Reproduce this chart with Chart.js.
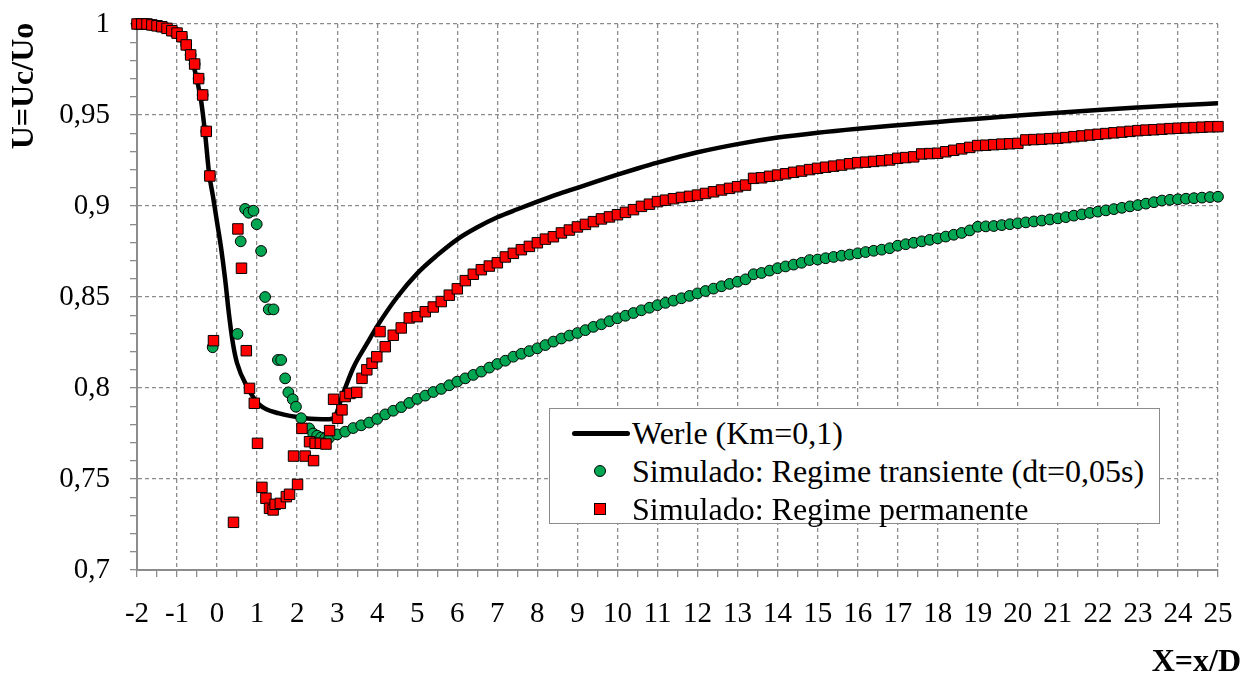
<!DOCTYPE html>
<html>
<head>
<meta charset="utf-8">
<script src="https://cdn.jsdelivr.net/npm/chart.js@4.4.0/dist/chart.umd.min.js"></script>
<style>
  body { margin: 0; background: #fff; }
  #wrap { position: relative; width: 1252px; height: 675px; }
  #legend {
    position: absolute; left: 549px; top: 408px; width: 611px; height: 116px;
    box-sizing: border-box; border: 1.5px solid #8c8c8c; background: #fff;
    font-family: "Liberation Serif", "Times New Roman", serif; font-size: 32px; color: #000;
  }
  #legend .row { position: absolute; left: 0; height: 38px; line-height: 38px; padding-left: 82px; white-space: nowrap; }
  #legend .line { position: absolute; left: 22px; top: 17px; width: 58px; height: 5px; background: #000; border-radius: 3px; }
  #legend .dot { position: absolute; left: 44px; top: 13px; width: 10px; height: 10px; border: 1px solid #000; border-radius: 50%; background: #00a651; }
  #legend .sq { position: absolute; left: 44px; top: 13px; width: 10px; height: 10px; border: 1px solid #000; background: #ff0000; }
</style>
</head>
<body>
<div id="wrap">
  <canvas id="chart" width="1252" height="675"></canvas>
  <div id="legend">
    <div class="row" style="top:5px"><span class="line"></span>Werle (Km=0,1)</div>
    <div class="row" style="top:43px"><span class="dot"></span>Simulado: Regime transiente (dt=0,05s)</div>
    <div class="row" style="top:81px"><span class="sq"></span>Simulado: Regime permanente</div>
  </div>
</div>
<script>
const xTitle = "X=x/D";
const yTitle = "U=Uc/Uo";

// Werle (Km=0,1) curve
const werleX = [-2, -1.5, -1.2, -1.0, -0.8, -0.6, -0.5, -0.4, -0.3, -0.2, -0.1, 0, 0.1, 0.2, 0.3, 0.4, 0.5, 0.75, 1.05, 1.55, 2.2, 2.8, 2.95,
  3.1, 3.4, 3.75, 4.0, 4.5, 5.0, 5.5, 6.0, 6.5, 7.0, 7.5, 8.0, 8.5, 9.0, 9.5, 10, 10.5, 11, 12, 13, 14, 15, 16, 17, 18, 19, 20, 21, 22, 23, 24, 25];
const werleY = [1.0, 0.9993, 0.997, 0.994, 0.988, 0.978, 0.969, 0.958, 0.940, 0.918, 0.905, 0.891, 0.877, 0.860, 0.840, 0.824, 0.8136, 0.8007, 0.791, 0.786, 0.7834, 0.7828, 0.7845,
  0.794, 0.811, 0.8246, 0.834, 0.850, 0.863, 0.873, 0.8817, 0.8883, 0.8938, 0.8982, 0.9024, 0.9064, 0.910, 0.9137, 0.9172, 0.9206, 0.9238,
  0.9295, 0.934, 0.9376, 0.9403, 0.9425, 0.9444, 0.9462, 0.948, 0.9497, 0.9513, 0.9528, 0.9541, 0.9553, 0.9564];

// Simulado: regime transiente (green circles)
const transHeadX = [-2.0, -1.88, -1.75, -1.63, -1.5, -1.38, -1.25, -1.13, -1.0, -0.88, -0.77, -0.66, -0.56, -0.46, -0.36, -0.27, -0.18,
  -0.11, 0.51, 0.59, 0.70, 0.79, 0.91, 0.99, 1.10, 1.20, 1.29, 1.41, 1.52, 1.60, 1.70, 1.78, 1.89, 1.97, 2.10, 2.30, 2.4, 2.5, 2.6, 2.7];
const transHeadY = [1.0, 1.0, 1.0, 0.9995, 0.999, 0.9985, 0.9976, 0.9963, 0.995, 0.993, 0.9885, 0.983, 0.978, 0.970, 0.961, 0.941, 0.9165,
  0.8224, 0.8297, 0.8806, 0.8984, 0.8963, 0.8974, 0.890, 0.8753, 0.850, 0.8432, 0.8432, 0.8154, 0.8154, 0.8053, 0.7976, 0.7938, 0.7897, 0.7834, 0.7778, 0.775, 0.7738, 0.7728, 0.7724];
const transTailStart = 2.8;
const transTailStep = 0.2;
const transTailY = [
  0.7726, 0.7745, 0.776, 0.778, 0.7795, 0.781, 0.783, 0.7855, 0.7875, 0.7895,
  0.7918, 0.794, 0.7958, 0.7978, 0.7995, 0.8015, 0.8035, 0.8053, 0.8072, 0.809,
  0.8112, 0.8132, 0.815, 0.8172, 0.8188, 0.8203, 0.8218, 0.8236, 0.8255, 0.8272,
  0.8288, 0.8302, 0.8318, 0.8336, 0.835, 0.8367, 0.8383, 0.8397, 0.8412, 0.8427,
  0.8441, 0.8455, 0.8468, 0.848, 0.8493, 0.8506, 0.852, 0.8533, 0.8546, 0.8559,
  0.8572, 0.8584, 0.8597, 0.8625, 0.8632, 0.8645, 0.8658, 0.8668, 0.8678, 0.8688,
  0.8703, 0.8706, 0.8713, 0.872, 0.8727, 0.8733, 0.874, 0.8747, 0.8754, 0.876,
  0.8768, 0.8782, 0.879, 0.8798, 0.8806, 0.8814, 0.8822, 0.8832, 0.8842, 0.8852,
  0.8866, 0.8886, 0.8888, 0.889, 0.8895, 0.89, 0.8905, 0.891, 0.8915, 0.892,
  0.8926, 0.8932, 0.8939, 0.8947, 0.8954, 0.8962, 0.8969, 0.8976, 0.8983, 0.899,
  0.8998, 0.9005, 0.9013, 0.9021, 0.903, 0.9034, 0.9037, 0.904, 0.9043, 0.9046,
  0.9049, 0.9051];

// Simulado: regime permanente (red squares)
const permHeadX = [-2.0, -1.88, -1.75, -1.63, -1.5, -1.38, -1.25, -1.13, -1.0, -0.88, -0.77, -0.66, -0.56, -0.46, -0.36, -0.27, -0.18,
  -0.09, 0.41, 0.52, 0.61, 0.73, 0.81, 0.93, 1.01, 1.12, 1.22, 1.31, 1.40, 1.45, 1.58, 1.73, 1.81, 2.01, 1.91, 2.2, 2.12, 2.31, 2.41,
  2.45, 2.58, 2.72, 2.81, 2.91, 3.01, 3.12, 3.2, 3.32, 3.49, 3.62, 3.74, 3.87, 3.99, 4.07];
const permHeadY = [1.0, 1.0, 1.0, 0.9995, 0.999, 0.9985, 0.9976, 0.9963, 0.995, 0.993, 0.9885, 0.983, 0.978, 0.970, 0.961, 0.941, 0.9165,
  0.826, 0.7262, 0.8874, 0.8658, 0.8205, 0.7998, 0.7916, 0.7696, 0.7454, 0.7394, 0.7339, 0.733, 0.7361, 0.7366, 0.7403, 0.7416, 0.747, 0.7626, 0.7626, 0.7778, 0.7705, 0.7601,
  0.7696, 0.7696, 0.7692, 0.7766, 0.7938, 0.7834, 0.788, 0.7953, 0.797, 0.7976, 0.8053, 0.810, 0.8136, 0.8172, 0.831];
const permTailStart = 4.2;
const permTailStep = 0.2;
const permTailY = [
  0.8227, 0.829, 0.833, 0.8385, 0.8392, 0.8419, 0.8445, 0.8475, 0.851, 0.8545,
  0.859, 0.8625, 0.865, 0.867, 0.8688, 0.872, 0.874, 0.876, 0.8778, 0.8798,
  0.8818, 0.8831, 0.8852, 0.8868, 0.8885, 0.8899, 0.8914, 0.8929, 0.894, 0.8952,
  0.8965, 0.898, 0.8998, 0.901, 0.9024, 0.9032, 0.904, 0.9047, 0.9053, 0.906,
  0.9069, 0.9078, 0.9088, 0.9097, 0.9106, 0.9115, 0.9152, 0.9155, 0.9163, 0.917,
  0.9177, 0.9185, 0.9192, 0.92, 0.9207, 0.9213, 0.9219, 0.9225, 0.9232, 0.9238,
  0.9241, 0.9245, 0.9249, 0.9253, 0.9262, 0.9266, 0.927, 0.9286, 0.9288, 0.929,
  0.9298, 0.9306, 0.9314, 0.9322, 0.9332, 0.9334, 0.9337, 0.934, 0.9342, 0.9344,
  0.9363, 0.9365, 0.9367, 0.937, 0.9372, 0.9376, 0.9381, 0.9385, 0.939, 0.9394,
  0.9398, 0.9402, 0.9406, 0.941, 0.9414, 0.9417, 0.9419, 0.9422, 0.9425, 0.9427,
  0.9429, 0.9431, 0.9433, 0.9435, 0.9436];

const xMin = -2, xMax = 25, yMin = 0.7, yMax = 1;

function pairs(xs, ys) {
  return xs.map((x, i) => ({ x: x, y: ys[i] }));
}
function tail(start, step, ys) {
  return ys.map((y, i) => ({ x: +(start + i * step).toFixed(3), y: y }));
}

const gridGray = "#8c8c8c";
const tickFont = { family: "'Liberation Serif', 'Times New Roman', serif", size: 29 };

const isMajorY = v => Math.abs(v * 20 - Math.round(v * 20)) < 1e-6;
const isMajorX = v => Math.abs(v - Math.round(v)) < 1e-6;

// axis titles sit outside the scale boxes, so draw them here
const axisTitles = {
  id: "axisTitles",
  afterDraw(chart) {
    const c = chart.ctx;
    const area = chart.chartArea;
    c.save();
    c.fillStyle = "#000";
    c.font = "bold 32px 'Liberation Serif', 'Times New Roman', serif";
    c.textAlign = "right";
    c.textBaseline = "alphabetic";
    c.fillText(xTitle, area.right + 23, area.bottom + 101);
    c.translate(33, area.top + 62);
    c.rotate(-Math.PI / 2);
    c.textAlign = "center";
    c.fillText(yTitle, 0, 0);
    c.restore();
  }
};

const ctx = document.getElementById("chart");
new Chart(ctx, {
  type: "scatter",
  data: {
    datasets: [
      {
        label: "Werle (Km=0,1)",
        data: pairs(werleX, werleY),
        showLine: true,
        borderColor: "#000",
        borderWidth: 4.5,
        pointRadius: 0,
        cubicInterpolationMode: "monotone",
        order: 3
      },
      {
        label: "Simulado: Regime transiente (dt=0,05s)",
        data: pairs(transHeadX, transHeadY).concat(tail(transTailStart, transTailStep, transTailY)),
        pointStyle: "circle",
        pointRadius: 5.4,
        backgroundColor: "#00a651",
        borderColor: "#000",
        borderWidth: 1,
        clip: false,
        order: 2
      },
      {
        label: "Simulado: Regime permanente",
        data: pairs(permHeadX, permHeadY).concat(tail(permTailStart, permTailStep, permTailY)),
        pointStyle: "rect",
        pointRadius: 7.4,
        backgroundColor: "#ff0000",
        borderColor: "#000",
        borderWidth: 1,
        clip: false,
        order: 1
      }
    ]
  },
  options: {
    responsive: false,
    animation: false,
    devicePixelRatio: 1,
    layout: { padding: { top: 24, right: 34, left: 0, bottom: 0 } },
    plugins: { legend: { display: false }, tooltip: { enabled: false } },
    scales: {
      x: {
        type: "linear",
        min: xMin,
        max: xMax,
        afterFit: s => { s.height = 105; s.paddingLeft = 0; s.paddingRight = 0; },
        ticks: {
          stepSize: 0.5,
          autoSkip: false,
          maxRotation: 0,
          padding: 20,
          color: "#000",
          font: tickFont,
          callback: v => isMajorX(v) ? String(Math.round(v)) : ""
        },
        grid: {
          color: c => isMajorX(c.tick.value) ? gridGray : "rgba(0,0,0,0)",
          lineWidth: 1.3,
          tickColor: gridGray,
          tickLength: 7,
          tickWidth: 1.3
        },
        border: { color: gridGray, width: 2, dash: [4, 3] }
      },
      y: {
        type: "linear",
        min: yMin,
        max: yMax,
        afterFit: s => { s.width = 137; s.paddingTop = 0; s.paddingBottom = 0; },
        ticks: {
          stepSize: 0.01,
          autoSkip: false,
          padding: 20,
          color: "#000",
          font: tickFont,
          callback: v => isMajorY(v) ? String(Math.round(v * 100) / 100).replace(".", ",") : ""
        },
        grid: {
          color: c => isMajorY(c.tick.value) ? gridGray : "rgba(0,0,0,0)",
          lineWidth: 1.3,
          tickColor: gridGray,
          tickLength: 7,
          tickWidth: 1.3
        },
        border: { color: gridGray, width: 2, dash: [4, 3] }
      }
    }
  },
  plugins: [axisTitles]
});
</script>
</body>
</html>
